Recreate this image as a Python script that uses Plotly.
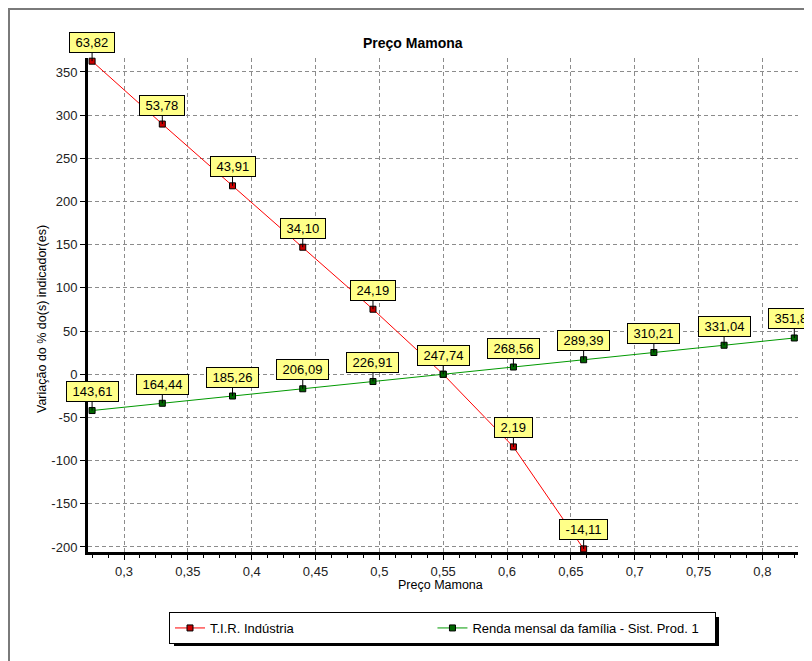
import plotly.graph_objects as go

# ---- data ----
precos = [0.275, 0.33, 0.385, 0.44, 0.495, 0.55, 0.605, 0.66, 0.715, 0.77, 0.825]
tir_var = [362.5, 289.7, 218.2, 147.1, 75.3, 0.0, -84.1, -202.2]
tir_labels = ["63,82", "53,78", "43,91", "34,10", "24,19", "", "2,19", "-14,11"]
renda_var = [-42.0, -33.6, -25.2, -16.8, -8.4, 0.0, 8.4, 16.8, 25.2, 33.6, 42.0]
renda_labels = ["143,61", "164,44", "185,26", "206,09", "226,91", "247,74",
                "268,56", "289,39", "310,21", "331,04", "351,86"]
series_names = ["T.I.R. Indústria", "Renda mensal da família - Sist. Prod. 1"]
x_tickvals = [0.3, 0.35, 0.4, 0.45, 0.5, 0.55, 0.6, 0.65, 0.7, 0.75, 0.8]
x_ticktext = ["0,3", "0,35", "0,4", "0,45", "0,5", "0,55", "0,6", "0,65", "0,7", "0,75", "0,8"]
y_tickvals = [-200, -150, -100, -50, 0, 50, 100, 150, 200, 250, 300, 350]
y_ticktext = ["-200", "-150", "-100", "-50", "0", "50", "100", "150", "200", "250", "300", "350"]

# page body has an 8px margin, so the figure is drawn 8px in from the window corner
OFF = 8
W, H = 812 - OFF, 661 - OFF
L, R, T, B = 88 - OFF, 14, 58 - OFF, 109
PW, PH = W - L - R, H - T - B
FONT = "Liberation Sans, Arial, sans-serif"
nb = "\u00a0"


def px(xp, yp):
    """Window pixel position -> paper fraction."""
    return (xp - OFF - L) / PW, (H - B - (yp - OFF)) / PH


fig = go.Figure()
fig.add_trace(go.Scatter(
    x=precos[:len(tir_var)], y=tir_var, mode="lines+markers", name=series_names[0] + nb * 37,
    line=dict(color="#FF0000", width=1),
    marker=dict(symbol="square", size=6, color="#CC0000", line=dict(color="#000000", width=1)),
    cliponaxis=False))
fig.add_trace(go.Scatter(
    x=precos, y=renda_var, mode="lines+markers", name=series_names[1] + nb * 3,
    line=dict(color="#009900", width=1),
    marker=dict(symbol="square", size=6, color="#006600", line=dict(color="#000000", width=1)),
    cliponaxis=False))

annotations = []
for xs, ys, labs in ((precos, tir_var, tir_labels), (precos, renda_var, renda_labels)):
    for xv, yv, lab in zip(xs, ys, labs):
        if not lab:
            continue
        annotations.append(dict(
            x=xv, y=yv, xref="x", yref="y", text=nb + lab + nb,
            showarrow=True, arrowhead=0, arrowwidth=1, arrowcolor="#000000",
            ax=0, ay=-19, bgcolor="#FFFF88", bordercolor="#000000", borderwidth=1,
            borderpad=2, font=dict(family=FONT, size=13, color="#000000")))

tx, ty = px(413, 43)
annotations.append(dict(x=tx, y=ty, xref="paper", yref="paper", text="<b>Preço Mamona</b>",
                        showarrow=False, font=dict(family=FONT, size=14, color="#000000"),
                        xanchor="center", yanchor="middle"))
xx, xy = px(440, 585)
annotations.append(dict(x=xx, y=xy, xref="paper", yref="paper", text="Preço Mamona",
                        showarrow=False, font=dict(family=FONT, size=12.5, color="#000000"),
                        xanchor="center", yanchor="middle"))
yx, yy = px(42, 319)
annotations.append(dict(x=yx, y=yy, xref="paper", yref="paper",
                        text="Variação do % do(s) indicador(es)", textangle=-90,
                        showarrow=False, font=dict(family=FONT, size=12.5, color="#000000"),
                        xanchor="center", yanchor="middle"))

fx0, fy0 = px(9, 9)
fx1, fy1 = px(830, 680)
sx0, sy0 = px(174, 617)
sx1, sy1 = px(719, 646)
shapes = [
    dict(type="rect", xref="paper", yref="paper", x0=fx0, y0=fy0, x1=fx1, y1=fy1,
         line=dict(color="#7A7A7A", width=2), fillcolor="rgba(0,0,0,0)", layer="below"),
    dict(type="rect", xref="paper", yref="paper", x0=sx0, y0=sy0, x1=sx1, y1=sy1,
         line=dict(width=0), fillcolor="#000000", layer="above"),
]

lx, ly = px(169, 612)
fig.update_layout(
    width=W, height=H,
    margin=dict(l=L, r=R, t=T, b=B, pad=0),
    paper_bgcolor="#FFFFFF", plot_bgcolor="#FFFFFF",
    font=dict(family=FONT, size=13, color="#222222"),
    showlegend=True,
    legend=dict(orientation="h", x=lx, y=ly, xanchor="left", yanchor="top",
                bgcolor="#FFFFFF", bordercolor="#000000", borderwidth=1,
                font=dict(family=FONT, size=13, color="#000000"),
                itemwidth=30, tracegroupgap=0),
    annotations=annotations,
    shapes=shapes,
    xaxis=dict(range=[0.2718, 0.8279], tickmode="array", tickvals=x_tickvals, ticktext=x_ticktext,
               showline=True, linecolor="#000000", linewidth=3, mirror=False,
               ticks="outside", ticklen=5, tickcolor="#000000", tickwidth=1,
               showgrid=True, gridcolor="#8C8C8C", gridwidth=1, griddash="4px,3px",
               zeroline=False,
               minor=dict(tick0=0.3, dtick=0.0125, ticks="outside", ticklen=3,
                          tickcolor="#000000", showgrid=False),
               tickfont=dict(family=FONT, size=13, color="#222222")),
    yaxis=dict(range=[-205.8, 366.2], tickmode="array", tickvals=y_tickvals, ticktext=y_ticktext,
               showline=True, linecolor="#000000", linewidth=3, mirror=False,
               ticks="outside", ticklen=5, tickcolor="#000000", tickwidth=1,
               showgrid=True, gridcolor="#8C8C8C", gridwidth=1, griddash="4px,3px",
               zeroline=False,
               tickfont=dict(family=FONT, size=13, color="#222222")),
)

fig.write_html("out.html")
